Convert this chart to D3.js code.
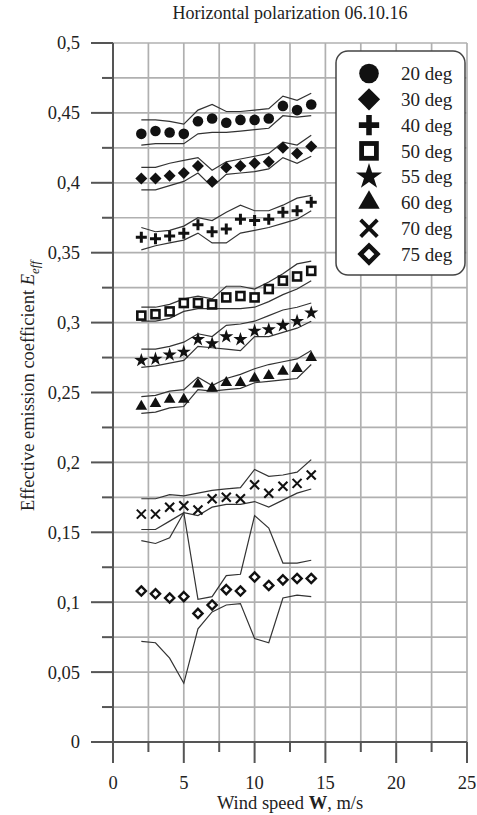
<!DOCTYPE html>
<html>
<head>
<meta charset="utf-8">
<script src="https://cdn.jsdelivr.net/npm/d3@7"></script>
<style>
  html, body { margin: 0; padding: 0; background: #fff; }
  svg { display: block; }
  text { font-family: "Liberation Serif", "Times New Roman", serif; fill: #222; }
</style>
</head>
<body>
<svg id="chart" width="477" height="815"></svg>
<script>
// ---------------- DATA ----------------
const titleText = "Horizontal polarization 06.10.16";
const windSpeed = [2, 3, 4, 5, 6, 7, 8, 9, 10, 11, 12, 13, 14];
const seriesNames = ["20 deg", "30 deg", "40 deg", "50 deg", "55 deg", "60 deg", "70 deg", "75 deg"];
const xTicks = [0, 5, 10, 15, 20, 25];
const yTicks = [0, 0.05, 0.1, 0.15, 0.2, 0.25, 0.3, 0.35, 0.4, 0.45, 0.5];
const yTickLabels = ["0", "0,05", "0,1", "0,15", "0,2", "0,25", "0,3", "0,35", "0,4", "0,45", "0,5"];

const e20   = [0.435, 0.437, 0.436, 0.435, 0.444, 0.446, 0.443, 0.445, 0.445, 0.446, 0.455, 0.452, 0.456];
const e20Hi = [0.445, 0.445, 0.444, 0.442, 0.452, 0.456, 0.451, 0.451, 0.452, 0.453, 0.462, 0.459, 0.464];
const e20Lo = [0.427, 0.428, 0.428, 0.428, 0.435, 0.436, 0.436, 0.437, 0.438, 0.439, 0.448, 0.447, 0.448];

const e30   = [0.403, 0.403, 0.405, 0.407, 0.412, 0.401, 0.411, 0.412, 0.414, 0.415, 0.425, 0.421, 0.426];
const e30Hi = [0.411, 0.411, 0.414, 0.416, 0.418, 0.409, 0.415, 0.417, 0.419, 0.421, 0.429, 0.427, 0.434];
const e30Lo = [0.395, 0.395, 0.398, 0.401, 0.407, 0.397, 0.406, 0.407, 0.408, 0.410, 0.418, 0.414, 0.419];

const e40   = [0.361, 0.360, 0.362, 0.364, 0.370, 0.365, 0.367, 0.374, 0.373, 0.374, 0.379, 0.380, 0.386];
const e40Hi = [0.368, 0.365, 0.366, 0.369, 0.375, 0.373, 0.379, 0.384, 0.380, 0.380, 0.384, 0.389, 0.391];
const e40Lo = [0.352, 0.355, 0.357, 0.359, 0.364, 0.357, 0.357, 0.364, 0.366, 0.368, 0.371, 0.374, 0.380];

const e50   = [0.305, 0.306, 0.308, 0.314, 0.314, 0.313, 0.318, 0.319, 0.318, 0.324, 0.330, 0.333, 0.337];
const e50Hi = [0.311, 0.311, 0.313, 0.317, 0.319, 0.317, 0.326, 0.326, 0.324, 0.329, 0.335, 0.342, 0.344];
const e50Lo = [0.301, 0.301, 0.303, 0.308, 0.310, 0.310, 0.310, 0.310, 0.311, 0.315, 0.320, 0.324, 0.330];

const e55   = [0.273, 0.274, 0.277, 0.279, 0.288, 0.285, 0.290, 0.288, 0.294, 0.295, 0.298, 0.301, 0.307];
const e55Hi = [0.281, 0.281, 0.283, 0.286, 0.292, 0.290, 0.298, 0.299, 0.301, 0.305, 0.309, 0.311, 0.314];
const e55Lo = [0.268, 0.269, 0.271, 0.273, 0.283, 0.282, 0.281, 0.280, 0.290, 0.290, 0.293, 0.296, 0.301];

const e60   = [0.240, 0.242, 0.245, 0.245, 0.256, 0.253, 0.257, 0.257, 0.260, 0.262, 0.265, 0.267, 0.275];
const e60Hi = [0.247, 0.248, 0.251, 0.252, 0.261, 0.255, 0.260, 0.263, 0.267, 0.270, 0.272, 0.274, 0.280];
const e60Lo = [0.235, 0.236, 0.239, 0.240, 0.252, 0.251, 0.252, 0.253, 0.257, 0.258, 0.259, 0.260, 0.270];

const e70   = [0.163, 0.163, 0.168, 0.169, 0.166, 0.174, 0.175, 0.174, 0.184, 0.178, 0.183, 0.185, 0.191];
const e70Hi = [0.174, 0.174, 0.177, 0.176, 0.178, 0.180, 0.181, 0.182, 0.195, 0.190, 0.191, 0.193, 0.202];
const e70Lo = [0.152, 0.152, 0.158, 0.164, 0.162, 0.168, 0.170, 0.170, 0.172, 0.168, 0.173, 0.178, 0.181];

const e75   = [0.108, 0.106, 0.103, 0.104, 0.092, 0.098, 0.109, 0.108, 0.118, 0.112, 0.116, 0.117, 0.117];
const e75Hi = [0.144, 0.142, 0.146, 0.164, 0.102, 0.104, 0.119, 0.120, 0.162, 0.153, 0.128, 0.128, 0.130];
const e75Lo = [0.072, 0.071, 0.060, 0.042, 0.081, 0.093, 0.098, 0.099, 0.074, 0.071, 0.103, 0.105, 0.104];

const seriesValues = [e20, e30, e40, e50, e55, e60, e70, e75];
const seriesHigh   = [e20Hi, e30Hi, e40Hi, e50Hi, e55Hi, e60Hi, e70Hi, e75Hi];
const seriesLow    = [e20Lo, e30Lo, e40Lo, e50Lo, e55Lo, e60Lo, e70Lo, e75Lo];
const markerKinds  = ["circle", "diamond", "plus", "square", "star", "triangle", "cross", "hollowDiamond"];

// ---------------- LAYOUT ----------------
const svg = d3.select("#chart");
const x = d3.scaleLinear().domain([0, 25]).range([113, 467]);
const y = d3.scaleLinear().domain([0, 0.5]).range([742, 43]);
const FS = 18.5;

// grid
const gridG = svg.append("g");
const xGrid = d3.range(0, 25.01, 2.5);
const yGrid = d3.range(0, 0.5001, 0.025);
gridG.selectAll("line.vx").data(xGrid.filter(d => d > 0)).join("line")
  .attr("x1", d => x(d)).attr("x2", d => x(d))
  .attr("y1", y(0)).attr("y2", y(0.5))
  .attr("stroke", "#b0b0b0").attr("stroke-width", 1.7);
gridG.selectAll("line.hy").data(yGrid.filter(d => d > 0)).join("line")
  .attr("x1", x(0)).attr("x2", x(25))
  .attr("y1", d => y(d)).attr("y2", d => y(d))
  .attr("stroke", "#b0b0b0").attr("stroke-width", 1.7);

// y axis
const yAxisG = svg.append("g").attr("transform", `translate(${x(0)},0)`);
yAxisG.append("line").attr("x1", 0).attr("x2", 0).attr("y1", y(0)).attr("y2", y(0.5))
  .attr("stroke", "#555").attr("stroke-width", 2);
yAxisG.selectAll("line.maj").data(yTicks).join("line")
  .attr("x1", -22).attr("x2", 0).attr("y1", d => y(d)).attr("y2", d => y(d))
  .attr("stroke", "#555").attr("stroke-width", 2);
yAxisG.selectAll("line.min").data(d3.range(0.025, 0.5, 0.05)).join("line")
  .attr("x1", -11).attr("x2", 0).attr("y1", d => y(d)).attr("y2", d => y(d))
  .attr("stroke", "#555").attr("stroke-width", 2);
yAxisG.selectAll("text").data(yTicks).join("text")
  .attr("x", -33).attr("y", d => y(d)).attr("dy", "0.35em")
  .attr("text-anchor", "end").attr("font-size", FS)
  .text((d, i) => yTickLabels[i]);

// x axis
const xAxisG = svg.append("g").attr("transform", `translate(0,${y(0)})`);
xAxisG.append("line").attr("x1", x(0)).attr("x2", x(25)).attr("y1", 0).attr("y2", 0)
  .attr("stroke", "#555").attr("stroke-width", 2);
xAxisG.selectAll("line.maj").data(xTicks).join("line")
  .attr("x1", d => x(d)).attr("x2", d => x(d)).attr("y1", 0).attr("y2", 21)
  .attr("stroke", "#555").attr("stroke-width", 2);
xAxisG.selectAll("line.min").data(d3.range(2.5, 25, 5)).join("line")
  .attr("x1", d => x(d)).attr("x2", d => x(d)).attr("y1", 0).attr("y2", 10)
  .attr("stroke", "#555").attr("stroke-width", 2);
xAxisG.selectAll("text").data(xTicks).join("text")
  .attr("x", d => x(d)).attr("y", 47)
  .attr("text-anchor", "middle").attr("font-size", FS)
  .text(d => d);

// title
svg.append("text").attr("x", 290).attr("y", 19).attr("text-anchor", "middle")
  .attr("font-size", 18).text(titleText);

// x label
const xl = svg.append("text").attr("x", 290).attr("y", 809).attr("text-anchor", "middle").attr("font-size", FS);
xl.append("tspan").text("Wind speed ");
xl.append("tspan").attr("font-weight", "bold").text("W");
xl.append("tspan").text(", m/s");

// y label
const yl = svg.append("text").attr("transform", "translate(34,386) rotate(-90)")
  .attr("text-anchor", "middle").attr("font-size", FS);
yl.append("tspan").text("Effective emission coefficient ");
yl.append("tspan").attr("font-style", "italic").text("E");
yl.append("tspan").attr("font-style", "italic").attr("font-size", 13).attr("dy", 5).text("eff");

// bands
const line = d3.line().x((d, i) => x(windSpeed[i])).y(d => y(d));
const bandG = svg.append("g");
seriesHigh.concat(seriesLow).forEach(arr => {
  bandG.append("path").attr("d", line(arr)).attr("fill", "none")
    .attr("stroke", "#333").attr("stroke-width", 1.2);
});

// markers
function drawMarker(g, kind, s) {
  switch (kind) {
    case "circle":
      g.append("circle").attr("r", 5.3 * s).attr("fill", "#111"); break;
    case "diamond":
      g.append("path").attr("d", `M0,${-6*s}L${6*s},0L0,${6*s}L${-6*s},0Z`).attr("fill", "#111"); break;
    case "plus":
      g.append("path").attr("d", `M${-5.5*s},0H${5.5*s}M0,${-5.5*s}V${5.5*s}`)
        .attr("stroke", "#111").attr("stroke-width", 3 * s).attr("fill", "none"); break;
    case "square":
      g.append("rect").attr("x", -4 * s).attr("y", -4 * s).attr("width", 8 * s).attr("height", 8 * s)
        .attr("fill", "#fff").attr("stroke", "#111").attr("stroke-width", 2.6 * s); break;
    case "star":
      g.append("path").attr("d", d3.symbol(d3.symbolStar, 62 * s * s)()).attr("fill", "#111"); break;
    case "triangle":
      g.append("path").attr("d", d3.symbol(d3.symbolTriangle, 58 * s * s)()).attr("fill", "#111"); break;
    case "cross":
      g.append("path").attr("d", `M${-4.5*s},${-4.5*s}L${4.5*s},${4.5*s}M${-4.5*s},${4.5*s}L${4.5*s},${-4.5*s}`)
        .attr("stroke", "#111").attr("stroke-width", 2.1 * s).attr("fill", "none"); break;
    case "hollowDiamond":
      g.append("path").attr("d", `M0,${-4.6*s}L${4.6*s},0L0,${4.6*s}L${-4.6*s},0Z`)
        .attr("fill", "#fff").attr("stroke", "#111").attr("stroke-width", 2.4 * s); break;
  }
}
const markG = svg.append("g");
seriesValues.forEach((arr, si) => {
  arr.forEach((v, i) => {
    const g = markG.append("g").attr("transform", `translate(${x(windSpeed[i])},${y(v)})`);
    drawMarker(g, markerKinds[si], 1);
  });
});

// legend
const legG = svg.append("g");
legG.append("rect").attr("x", 336).attr("y", 51).attr("width", 129).attr("height", 224)
  .attr("rx", 12).attr("fill", "#fff").attr("stroke", "#444").attr("stroke-width", 1.5);
seriesNames.forEach((name, i) => {
  const cy = 73.5 + i * 25.8;
  const g = legG.append("g").attr("transform", `translate(369,${cy})`);
  drawMarker(g, markerKinds[i], 1.85);
  legG.append("text").attr("x", 401).attr("y", cy).attr("dy", "0.35em")
    .attr("font-size", 19).text(name);
});
</script>
</body>
</html>
